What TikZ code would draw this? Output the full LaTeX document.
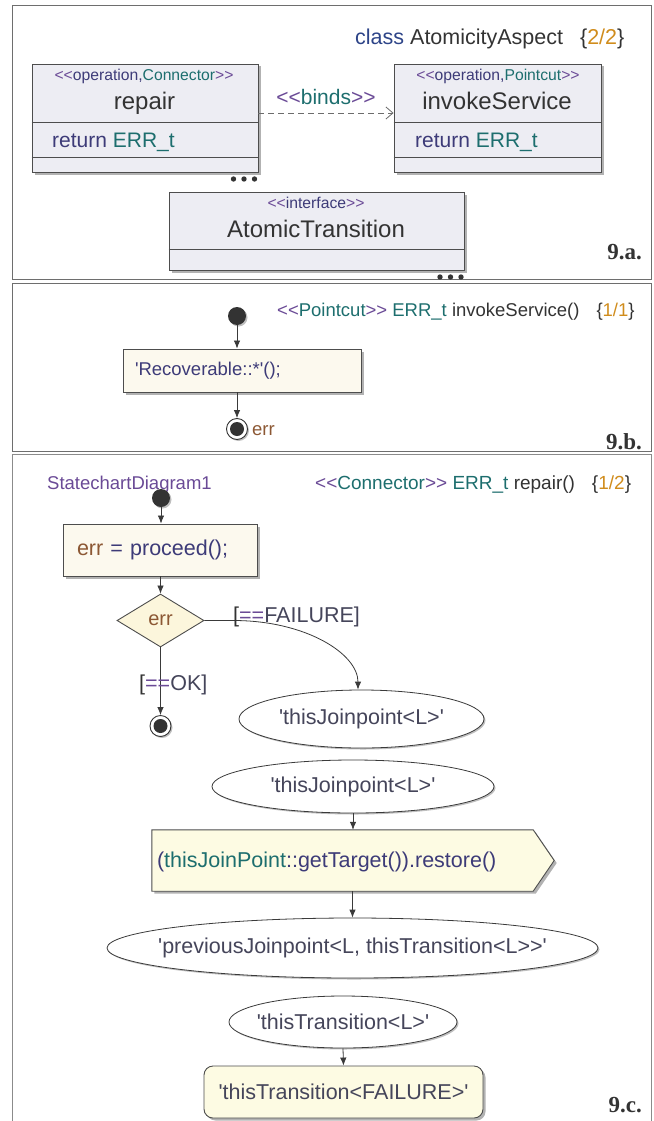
\documentclass[tikz,border=0pt]{standalone}
\usepackage{fontspec}
\newfontfamily\dsans{Liberation Sans}
\newfontfamily\dserif{Liberation Serif}
\usetikzlibrary{arrows.meta,shapes.geometric,shadows}

\definecolor{cteal}{HTML}{1D6E6E}
\definecolor{cpurple}{HTML}{6A4A96}
\definecolor{cnavy}{HTML}{3D3B78}
\definecolor{cblue}{HTML}{2D4488}
\definecolor{corange}{HTML}{D08C1C}
\definecolor{cbrown}{HTML}{8C5834}
\definecolor{cdark}{HTML}{333333}
\definecolor{cgray}{HTML}{45455A}
\definecolor{classfill}{HTML}{EDEDF3}
\definecolor{actfill}{HTML}{FCF9EE}
\definecolor{decfill}{HTML}{FCF6DC}
\definecolor{sigfill}{HTML}{FDFBE3}
\definecolor{cline}{HTML}{3A3A3A}
\definecolor{cbox}{HTML}{4D4D4D}
\definecolor{cframe}{HTML}{6E6E6E}
\definecolor{cdot}{HTML}{333333}

\newcommand{\dfsz}[1]{\dsans\fontsize{#1}{#1}\selectfont}
% text of a fixed-size ellipse: zero width, so only the given size counts
\newcommand{\etext}[1]{\makebox[0pt]{#1}}

\begin{document}
\begin{tikzpicture}[x=1pt,y=-1pt,
  lbl/.style={inner sep=0pt, anchor=base west},
  clbl/.style={inner sep=0pt, anchor=base},
  softshadow/.style={drop shadow={shadow xshift=2.5pt, shadow yshift=-2.5pt, fill=black, opacity=0.3}},
  classbox/.style={draw=cbox, fill=classfill, line width=0.9pt, inner sep=0pt, softshadow},
  divider/.style={draw=cbox, line width=0.9pt},
  actbox/.style={draw=cbox, fill=actfill, line width=0.9pt, inner ysep=0pt, align=left, softshadow},
  decision/.style={diamond, draw=cbox, fill=decfill, line width=0.9pt, inner sep=0pt, aspect=1.6},
  state/.style={ellipse, draw=cline, fill=white, line width=0.8pt, inner sep=0pt,
    font=\dfsz{21.5}, text=cgray, drop shadow={shadow xshift=1.5pt, shadow yshift=-1.5pt, fill=black, opacity=0.25}},
  initial/.style={circle, fill=cdot, minimum size=18pt, inner sep=0pt,
    drop shadow={shadow xshift=1.5pt, shadow yshift=-1.5pt, fill=black, opacity=0.25}},
  final/.style={circle, minimum size=21pt, inner sep=0pt, draw=cdot, line width=0.9pt, fill=white,
    drop shadow={shadow xshift=1.5pt, shadow yshift=-1.5pt, fill=black, opacity=0.25},
    path picture={\fill[cdot] (path picture bounding box.center) circle[radius=7pt];}},
  flow/.style={draw=cline, line width=0.8pt, -{Latex[length=8pt,width=6.5pt]}},
  framebox/.style={draw=cframe, line width=0.9pt},
  panellabel/.style={inner sep=0pt, anchor=base east, font=\dserif\bfseries\fontsize{23}{23}\selectfont, text=cdark}
]
\useasboundingbox (0,0) rectangle (653,1121);

% ---------- panel frames ----------
\draw[framebox] (12,5) rectangle (651,279);
\draw[framebox] (12,283) rectangle (651,451.5);
\draw[framebox, draw=cframe!80] (12,1121) -- (12,454) -- (651,454) -- (651,1121);

% ---------- 9.a : class diagram ----------
\node[lbl, font=\dfsz{21.5}] (title) at (355,45)
  {\textcolor{cblue}{class} \textcolor{cdark}{AtomicityAspect}\hspace{17pt}\textcolor{cdark}{\{}\textcolor{corange}{2/2}\textcolor{cdark}{\}}};

\node[classbox, minimum width=226pt, minimum height=108pt] (repair) at (145,118) {};
\draw[divider] (repair.west |- 0,122) -- (repair.east |- 0,122);
\draw[divider] (repair.west |- 0,157) -- (repair.east |- 0,157);
\node[clbl, font=\dfsz{15.7}] (rst) at (144,81)
  {\textcolor{cpurple}{<<}\textcolor{cnavy}{operation,}\textcolor{cteal}{Connector}\textcolor{cpurple}{>>}};
\node[clbl, font=\dfsz{24}, text=cdark] (rname) at (144.5,110) {repair};
\node[lbl, font=\dfsz{21}] (rret) at (52,147.5) {\textcolor{cnavy}{return} \textcolor{cteal}{ERR\_t}};

\node[classbox, minimum width=207pt, minimum height=108pt] (invoke) at (497.5,118) {};
\draw[divider] (invoke.west |- 0,122.5) -- (invoke.east |- 0,122.5);
\draw[divider] (invoke.west |- 0,157) -- (invoke.east |- 0,157);
\node[clbl, font=\dfsz{15.7}] (ist) at (498,81)
  {\textcolor{cpurple}{<<}\textcolor{cnavy}{operation,}\textcolor{cteal}{Pointcut}\textcolor{cpurple}{>>}};
\node[clbl, font=\dfsz{24}, text=cdark] (iname) at (497,110) {invokeService};
\node[lbl, font=\dfsz{21}] (iret) at (415,147.5) {\textcolor{cnavy}{return} \textcolor{cteal}{ERR\_t}};

\draw[draw=gray!85!black, line width=0.8pt, dash pattern=on 6pt off 4pt,
      -{Straight Barb[length=7pt,width=12pt]}]
  ([yshift=5pt]repair.east) -- ([yshift=5pt]invoke.west);
\node[clbl, font=\dfsz{21}] (binds) at (326,105)
  {\textcolor{cpurple}{<<}\textcolor{cteal}{binds}\textcolor{cpurple}{>>}};

\foreach \dx in {233.5,244,254.5} \fill[cdark] (\dx,179) circle[radius=2.7pt];

\node[classbox, minimum width=295pt, minimum height=78pt] (atomic) at (316.5,231) {};
\draw[divider] (atomic.west |- 0,249.3) -- (atomic.east |- 0,249.3);
\node[clbl, font=\dfsz{15.7}] (ast) at (316,208)
  {\textcolor{cpurple}{<<}\textcolor{cnavy}{interface}\textcolor{cpurple}{>>}};
\node[clbl, font=\dfsz{24}, text=cdark] (aname) at (316,237) {AtomicTransition};

\foreach \dx in {440,450.5,461} \fill[cdark] (\dx,277) circle[radius=2.7pt];

\node[panellabel] (la) at (642,259) {9.a.};

% ---------- 9.b : pointcut ----------
\node[lbl, font=\dfsz{18.5}] (hb) at (277,316)
  {\textcolor{cpurple}{<<}\textcolor{cteal}{Pointcut}\textcolor{cpurple}{>>} \textcolor{cteal}{ERR\_t} \textcolor{cdark}{invokeService()}\hspace{17pt}\textcolor{cdark}{\{}\textcolor{corange}{1/1}\textcolor{cdark}{\}}};

\node[initial] (ib) at (237,316) {};
\node[actbox, minimum height=43pt, text width=214pt, inner xsep=12pt, font=\dfsz{18.5}, text=cnavy]
  (actb) at (242,370.5) {'Recoverable::*'();};
\node[final] (fb) at (237,429) {};
\draw[flow] (ib) -- (ib |- actb.north);
\draw[flow] (actb.south -| fb) -- (fb);
\node[lbl, font=\dfsz{18.5}, text=cbrown] (errb) at (252,435) {err};

\node[panellabel] (lb) at (642,449) {9.b.};

% ---------- 9.c : connector ----------
\node[lbl, font=\dfsz{18.5}, text=cpurple] (sd) at (47,489) {StatechartDiagram1};
\node[lbl, font=\dfsz{19}] (hc) at (315,489)
  {\textcolor{cpurple}{<<}\textcolor{cteal}{Connector}\textcolor{cpurple}{>>} \textcolor{cteal}{ERR\_t} \textcolor{cdark}{repair()}\hspace{17pt}\textcolor{cdark}{\{}\textcolor{corange}{1/2}\textcolor{cdark}{\}}};

\node[initial] (ic) at (161,498) {};
\node[actbox, minimum height=52pt, text width=166pt, inner xsep=14pt, font=\dfsz{21.5}]
  (actc) at (160,550) {\textcolor{cbrown}{err} \textcolor{cnavy}{= proceed();}};
\node[decision, minimum width=87pt, minimum height=53pt, font=\dfsz{20}, text=cbrown]
  (dec) at (160.5,620.5) {err};
\node[final] (fc) at (160.5,726) {};
\draw[flow] (ic) -- (ic |- actc.north);
\draw[flow] (actc.south -| dec) -- (dec.north);
\draw[flow] (dec.south) -- (fc);

\node[state, minimum width=245pt, minimum height=58pt] (e1) at (361.5,719) {\etext{'thisJoinpoint<L>'}};
\draw[flow] (dec.east) -- ++(29,0)
  .. controls ++(72,0) and ([xshift=-3.5pt,yshift=36pt]e1.north) .. ([xshift=-3.5pt]e1.north);
\node[lbl, font=\dfsz{21.5}] (lfail) at (233,622)
  {\textcolor{cdark}{[}\textcolor{cpurple}{==}\textcolor{cgray}{FAILURE]}};
\node[lbl, font=\dfsz{21.5}] (lok) at (139,690)
  {\textcolor{cdark}{[}\textcolor{cpurple}{==}\textcolor{cgray}{OK]}};

\node[state, minimum width=282pt, minimum height=53pt] (e2) at (353,786.5) {\etext{'thisJoinpoint<L>'}};

% send-signal action: body node, then the pointed outline, then its text
\node[minimum width=381pt, minimum height=61pt, inner sep=0pt] (sig) at (342.5,860.5) {};
\draw[draw=cbox, fill=sigfill, line width=0.9pt, softshadow]
  (sig.north west) -- (sig.north east) -- ([xshift=21pt]sig.east) -- (sig.south east) -- (sig.south west) -- cycle;
\node[inner sep=0pt, anchor=west, font=\dfsz{21.5}] (sigtext) at ([xshift=5pt,yshift=-1pt]sig.west)
  {\textcolor{cnavy}{(}\textcolor{cteal}{thisJoinPoint}\textcolor{cnavy}{::getTarget()).restore()}};
\draw[flow] (e2.south) -- (e2.south |- sig.north);

\node[state, minimum width=491pt, minimum height=60pt] (e3) at (352.5,948)
  {\etext{'previousJoinpoint<L, thisTransition<L>>'}};
\draw[flow] (sig.south -| e3) -- (e3.north);

\node[state, minimum width=228pt, minimum height=52pt] (e4) at (343,1022) {\etext{'thisTransition<L>'}};
\node[draw=cbox, fill=sigfill, line width=0.9pt, rounded corners=9pt, inner sep=0pt,
      minimum width=279pt, minimum height=52pt, font=\dfsz{21.5}, text=cgray, softshadow]
  (rb) at (343.5,1092) {'thisTransition<FAILURE>'};
\draw[flow] (e4.south) -- (rb.north);

\node[panellabel] (lc) at (642,1112) {9.c.};
\end{tikzpicture}
\end{document}
